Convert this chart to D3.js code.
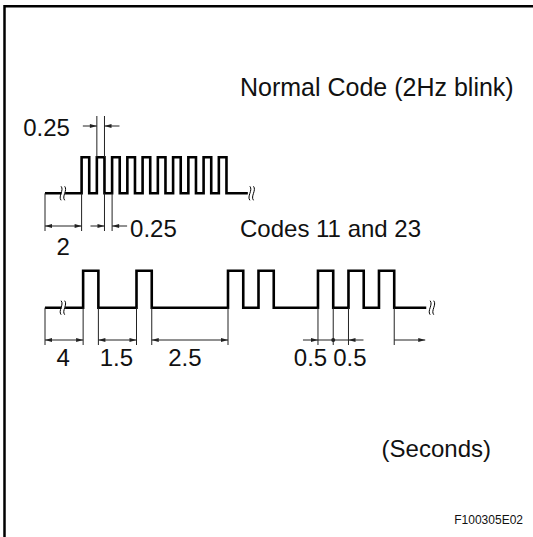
<!DOCTYPE html>
<html><head><meta charset="utf-8">
<script src="https://cdn.jsdelivr.net/npm/d3@7"></script>
<style>html,body{margin:0;padding:0;background:#fff}</style>
</head><body><svg id="c" width="533" height="537"></svg>
<script>
// ---- data (seconds, as drawn; lead-in periods are compressed by break marks) ----
const normalDurations = [1.2, 0.25, 0.25, 0.25, 0.25, 0.25, 0.25, 0.25, 0.25, 0.25, 0.25,
                         0.25, 0.25, 0.25, 0.25, 0.25, 0.25, 0.25, 0.25, 0.25, 0.7];
const normalLevels    = [0, 1, 0, 1, 0, 1, 0, 1, 0, 1, 0, 1, 0, 1, 0, 1, 0, 1, 0, 1, 0];
const codeDurations   = [1.25, 0.5, 1.25, 0.5, 2.5, 0.5, 0.5, 0.5, 1.45, 0.5, 0.5, 0.5, 0.5, 0.5, 1.05];
const codeLevels      = [0, 1, 0, 1, 0, 1, 0, 1, 0, 1, 0, 1, 0, 1, 0];
const normalDimLabels = ["2", "0.25", "0.25"];
const codeDimLabels   = ["4", "1.5", "2.5", "0.5", "0.5"];
const titles = ["Normal Code (2Hz blink)", "Codes 11 and 23"];
const unitLabel = "(Seconds)";
const figId = "F100305E02";

// ---- drawing ----
const svg = d3.select("#c");
const FONT = "'Liberation Sans', Arial, Helvetica, sans-serif";
const x = d3.scaleLinear().domain([0, 12.5]).range([45, 426.25]);
const yN = d3.scaleLinear().domain([0, 1]).range([193.3, 157.3]);
const yC = d3.scaleLinear().domain([0, 1]).range([307.7, 270.7]);

function edges(durs) { const e = [0]; durs.forEach(d => e.push(e[e.length - 1] + d)); return e; }
const eN = edges(normalDurations), eC = edges(codeDurations);

// frame
svg.append("path").attr("d", "M4.5,537 V6.2 H533").attr("fill", "none")
  .attr("stroke", "#000").attr("stroke-width", 2.5);

function wave(levels, e, y) {
  const pts = levels.map((l, i) => [e[i], l]);
  pts.push([e[e.length - 1], levels[levels.length - 1]]);
  const line = d3.line().x(d => x(d[0])).y(d => y(d[1])).curve(d3.curveStepAfter);
  svg.append("path").attr("d", line(pts)).attr("fill", "none")
    .attr("stroke", "#000").attr("stroke-width", 2.6).attr("stroke-linejoin", "miter");
}
wave(normalLevels, eN, yN);
wave(codeLevels, eC, yC);

function breakMark(t, y, cut) {
  const cx = x(t);
  if (cut) svg.append("rect").attr("x", cx - 1.2).attr("y", y - 3).attr("width", 3.6).attr("height", 6).attr("fill", "#fff");
  [cx - 1.6, cx + 2.0].forEach(bx => {
    svg.append("path")
      .attr("d", `M${bx},${y - 7} C${bx + 3.2},${y - 3} ${bx - 3.2},${y + 3} ${bx},${y + 7}`)
      .attr("fill", "none").attr("stroke", "#000").attr("stroke-width", 1);
  });
}
breakMark(0.58, yN(0), true);
breakMark(eN[eN.length - 1] + 0.12, yN(0), false);
breakMark(0.58, yC(0), true);
breakMark(eC[eC.length - 1] + 0.18, yC(0), false);

const dimG = svg.append("g").attr("stroke", "#222").attr("stroke-width", 1).attr("fill", "none");
function vline(px, y1, y2) { dimG.append("line").attr("x1", px).attr("x2", px).attr("y1", y1).attr("y2", y2); }
function hline(x1, x2, y) { dimG.append("line").attr("x1", x1).attr("x2", x2).attr("y1", y).attr("y2", y); }
function head(tip, y, dir) {
  svg.append("path").attr("d", `M${tip},${y} L${tip - dir * 7},${y - 2.1} L${tip - dir * 7},${y + 2.1} Z`).attr("fill", "#222");
}
function label(txt, px, y, anchor, size) {
  svg.append("text").attr("x", px).attr("y", y).attr("text-anchor", anchor || "middle")
    .attr("font-family", FONT).attr("font-size", size || 24).attr("fill", "#111").text(txt);
}

// ---- Normal code dimensions ----
const dN = 226, extN = 231;
// "2"
vline(x(eN[0]), yN(0), extN); vline(x(eN[1]), yN(0), extN);
hline(x(eN[0]), x(eN[1]), dN); head(x(eN[0]), dN, -1); head(x(eN[1]), dN, 1);
label(normalDimLabels[0], (x(eN[0]) + x(eN[1])) / 2, 255);
// upper 0.25 (on time)
const dU = 126;
vline(x(eN[3]), yN(1), 116); vline(x(eN[4]), yN(1), 116);
hline(x(eN[3]) - 14, x(eN[3]), dU); head(x(eN[3]), dU, 1);
hline(x(eN[4]), x(eN[4]) + 15, dU); head(x(eN[4]), dU, -1);
label(normalDimLabels[1], x(eN[3]) - 27, 136, "end");
// lower 0.25 (off time)
vline(x(eN[4]), yN(0), extN); vline(x(eN[5]), yN(0), extN);
hline(x(eN[4]) - 14, x(eN[4]), dN); head(x(eN[4]), dN, 1);
hline(x(eN[5]), x(eN[5]) + 15, dN); head(x(eN[5]), dN, -1);
label(normalDimLabels[2], x(eN[5]) + 18, 237, "start");

// ---- Codes 11 and 23 dimensions ----
const dC = 340, extC = 345;
[[0, 1, 0], [2, 3, 1], [4, 5, 2]].forEach(([a, b, li]) => {
  vline(x(eC[a]), yC(0), extC); vline(x(eC[b]), yC(0), extC);
  hline(x(eC[a]), x(eC[b]), dC); head(x(eC[a]), dC, -1); head(x(eC[b]), dC, 1);
  label(codeDimLabels[li], (x(eC[a]) + x(eC[b])) / 2 + (li === 2 ? -5 : -1), 366);
});
// 0.5 / 0.5
vline(x(eC[9]), yC(0), extC); vline(x(eC[10]), yC(0), extC); vline(x(eC[11]), yC(0), extC);
hline(x(eC[9]) - 15, x(eC[11]) + 15, dC);
head(x(eC[9]), dC, 1); head(x(eC[11]), dC, -1);
svg.append("circle").attr("cx", x(eC[10])).attr("cy", dC).attr("r", 2).attr("fill", "#222");
label(codeDimLabels[3], x(eC[10]) - 6, 366, "end");
label(codeDimLabels[4], x(eC[10]) + 0, 366, "start");
// trailing arrow
vline(x(eC[14]), yC(0), extC);
hline(x(eC[14]), x(eC[14]) + 31, dC); head(x(eC[14]) + 31, dC, 1);

// ---- text ----
label(titles[0], 240, 96, "start", 25);
label(titles[1], 240, 237, "start");
label(unitLabel, 491, 457, "end");
label(figId, 523, 524, "end", 12);
</script></body></html>
